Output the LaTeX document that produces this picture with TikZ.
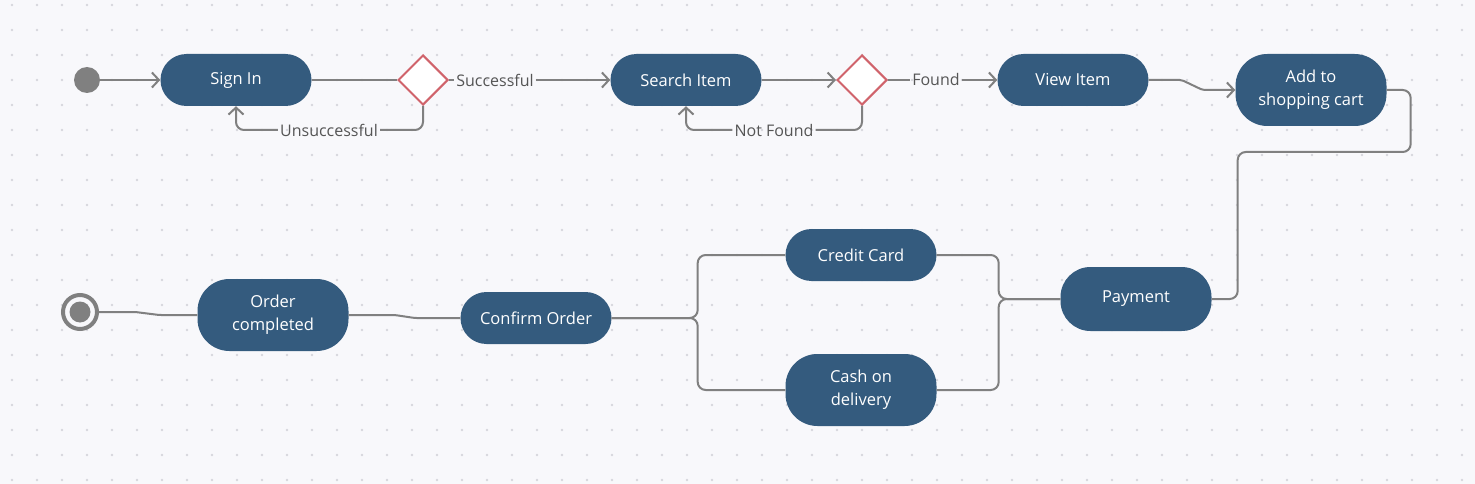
\documentclass[tikz,border=0pt]{standalone}
\usepackage{fontspec}
\setmainfont{Open Sans}
\usetikzlibrary{shapes.geometric,arrows.meta,positioning}
\definecolor{bgpage}{HTML}{F8F8FB}
\definecolor{griddot}{HTML}{D6D6DD}
\definecolor{actblue}{HTML}{345B7E}
\definecolor{flowgrey}{HTML}{808080}
\definecolor{guardtext}{HTML}{555555}
\definecolor{decred}{HTML}{D0636B}

\begin{document}
\begin{tikzpicture}[
            x=1pt, y=-1pt,
            action/.style={rectangle, fill=actblue, text=white, minimum width=151pt, inner sep=0pt, align=center, font=\fontsize{16.5}{23}\selectfont},
            action short/.style={action, minimum height=52pt, rounded corners=26pt},
            action tall/.style={action, minimum height=72pt, rounded corners=32pt},
            decision/.style={diamond, draw=decred, line width=2pt, fill=white, minimum width=50pt, minimum height=50pt, inner sep=0pt},
            guard/.style={text=guardtext, inner sep=2pt, font=\fontsize{16}{19}\selectfont},
            flow/.style={draw=flowgrey, line width=2pt, rounded corners=8pt},
            arrow/.style={-{Straight Barb[length=7pt,width=15pt]}},
        ]
        % background with dot grid
        \fill[bgpage] (0,0) rectangle (1475,484);
        \useasboundingbox (0,0) rectangle (1475,484);
        \foreach \gx in {12,37,...,1462}
            \foreach \gy in {5,30,...,480}
                \fill[griddot] (\gx,\gy) circle (1.3pt);
        % TOP ROW
        \fill[flowgrey] (87,80) circle (13pt);
        \coordinate (start) at (100,80);
        \node[action short] (signin) at (236,80) {Sign In};
        \node[decision] (dec1) at (423,80) {};
        \node[guard] (succ) at (495,80) {Successful};
        \node[guard] (unsucc) at (329,130) {Unsuccessful};
        \node[action short] (search) at (686,80) {Search Item};
        \node[decision] (dec2) at (862,80) {};
        \node[guard] (found) at (936,80) {Found};
        \node[guard] (notfound) at (774,130) {Not Found};
        \node[action short] (view) at (1073,80) {View Item};
        \node[action tall] (addcart) at (1311,90) {Add to\\shopping cart};
        % BOTTOM ROW
        \node[action short, minimum height=64pt, rounded corners=30pt] (payment) at (1136,299) {Payment};
        \node[action short] (credit) at (861,255) {Credit Card};
        \node[action tall] (cash) at (861,390) {Cash on\\delivery};
        \node[action short] (confirm) at (536,318) {Confirm Order};
        \node[action tall] (ordered) at (273,315) {Order\\completed};
        \draw[flowgrey, line width=4pt] (80,312) circle (17pt);
        \fill[flowgrey] (80,312) circle (10.5pt);
        \coordinate (finish) at (99,312);
        % connectors
        \draw[flow, arrow] (start) -- (signin);
        \draw[flow] (signin) -- (dec1);
        \draw[flow] (dec1) -- (succ);
        \draw[flow, arrow] (succ) -- (search);
        \draw[flow] (dec1.south) |- (unsucc.east);
        \draw[flow, arrow] (unsucc.west) -| (signin.south);
        \draw[flow, arrow] (search) -- (dec2);
        \draw[flow] (dec2) -- (found);
        \draw[flow, arrow] (found) -- (view);
        \draw[flow] (dec2.south) |- (notfound.east);
        \draw[flow, arrow] (notfound.west) -| (search.south);
        \draw[flow, rounded corners=2pt, arrow] (view.east) -- ++(33,0) -- ++(21,10) -- (addcart.west);
        \draw[flow] (addcart.east) -- ++(24,0) -- ++(0,62) -- ++(-173,0) |- (payment.east);
        \draw[flow] (credit.east) -- ++(62,0) |- (payment.west);
        \draw[flow] (cash.east) -- ++(62,0) |- (payment.west);
        \draw[flow] (confirm.east) -- ++(86,0) |- (credit.west);
        \draw[flow] (confirm.east) -- ++(86,0) |- (cash.west);
        \draw[flow, rounded corners=2pt] (ordered.east) -- ++(46,0) -- ++(20,3) -- (confirm.west);
        \draw[flow, rounded corners=2pt] (ordered.west) -- ++(-38,0) -- ++(-24,-3) -- (finish);
\end{tikzpicture}
\end{document}
